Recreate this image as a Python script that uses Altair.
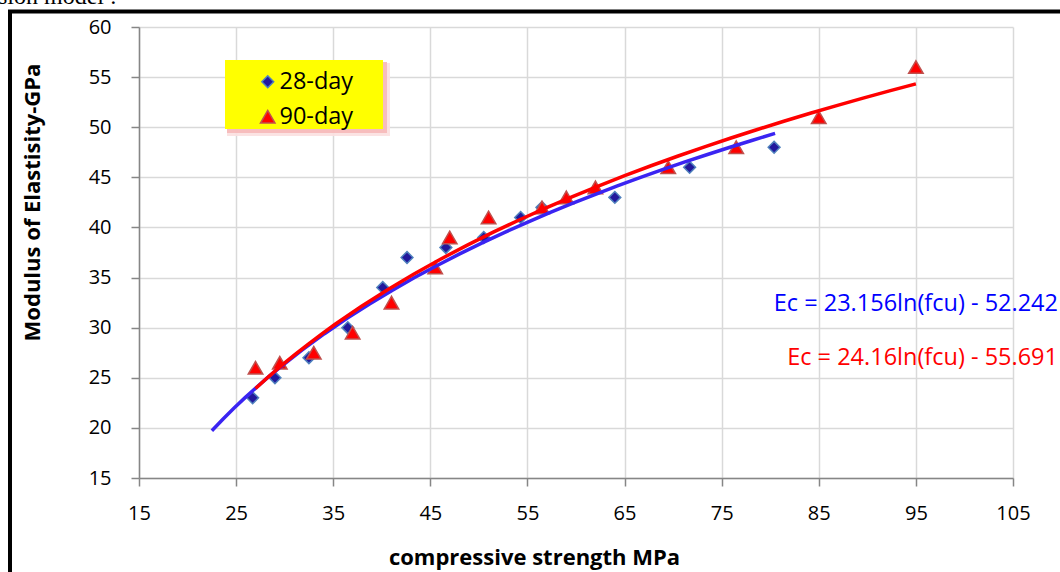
import altair as alt
import pandas as pd

# ---- data ----
fcu_28 = [26.7, 29.0, 32.5, 36.5, 40.1, 42.6, 46.6, 50.5, 54.3, 56.5, 64.0, 71.7, 80.4]
ec_28 = [23, 25, 27, 30, 34, 37, 38, 39, 41, 42, 43, 46, 48]
fcu_90 = [27.0, 29.5, 33.0, 37.0, 41.0, 45.5, 47.0, 51.0, 56.5, 59.0, 62.0, 69.5, 76.5, 85.0, 95.0]
ec_90 = [26, 26.5, 27.5, 29.5, 32.5, 36, 39, 41, 42, 43, 44, 46, 48, 51, 56]
series_names = ["28-day", "90-day"]
extent_28 = [22.5, 80.5]
extent_90 = [27.0, 95.0]
eq_28 = "Ec = 23.156ln(fcu) - 52.242"
eq_90 = "Ec = 24.16ln(fcu) - 55.691"
x_ticks = [15, 25, 35, 45, 55, 65, 75, 85, 95, 105]
y_ticks = [15, 20, 25, 30, 35, 40, 45, 50, 55, 60]
x_title = "compressive strength MPa"
y_title = "Modulus of Elastisity-GPa"
top_text = "sion model :"

df = pd.DataFrame({
    "series": [series_names[0]] * len(fcu_28) + [series_names[1]] * len(fcu_90),
    "fcu": fcu_28 + fcu_90,
    "Ec": ec_28 + ec_90,
})

W, H = 874, 451
FONT = "Open Sans"

x_enc = alt.X("fcu:Q", scale=alt.Scale(domain=[15, 105], nice=False, zero=False),
              axis=alt.Axis(values=x_ticks, title=x_title, labelPadding=17,
                            labelFlush=False, labelOverlap=False,
                            titleX=395, titleY=79, titleBaseline="middle",
                            titleAnchor="start", titleAlign="center"))
y_enc = alt.Y("Ec:Q", scale=alt.Scale(domain=[15, 60], nice=False, zero=False),
              axis=alt.Axis(values=y_ticks, title=y_title, labelPadding=20,
                            labelFlush=False, labelOverlap=False,
                            titleX=-107, titleY=175, titleBaseline="middle",
                            titleAngle=-90, titleAlign="center"))

legend = alt.Legend(title=None, orient="none", legendX=86, legendY=34,
                    padding=9,
                    symbolStrokeWidth=1.5, symbolOffset=22, labelOffset=0,
                    labelFont=FONT, labelFontSize=23.5, labelColor="black",
                    rowPadding=10)

shape_scale = alt.Scale(domain=series_names, range=["diamond", "triangle-up"])
fill_scale = alt.Scale(domain=series_names, range=["#22189c", "#ff0000"])
stroke_scale = alt.Scale(domain=series_names, range=["#4f81bd", "#c0504d"])
size_scale = alt.Scale(domain=series_names, range=[140, 210])

one = pd.DataFrame({"k": [0]})

frame = alt.Chart(one).mark_rect(
    fillOpacity=0, stroke="black", strokeWidth=4
).encode(x=alt.value(-129), x2=alt.value(935), y=alt.value(-15.5), y2=alt.value(570))

top = alt.Chart(pd.DataFrame({"t": [top_text]})).mark_text(
    align="left", baseline="alphabetic", font="Liberation Serif", fontSize=24, color="black"
).encode(text="t:N", x=alt.value(-141), y=alt.value(-23))

shadow2 = alt.Chart(one).mark_rect(fill="#fbe0e0", opacity=0.9).encode(
    x=alt.value(88), x2=alt.value(251), y=alt.value(36), y2=alt.value(109))
shadow = alt.Chart(one).mark_rect(fill="#f6b8b8", opacity=0.9).encode(
    x=alt.value(88), x2=alt.value(248), y=alt.value(35), y2=alt.value(106))
legend_box = alt.Chart(one).mark_rect(fill="#ffff00").encode(
    x=alt.value(86), x2=alt.value(244), y=alt.value(33), y2=alt.value(102))

points = alt.Chart(df).mark_point(filled=True, opacity=1, strokeWidth=1.5).encode(
    x=x_enc, y=y_enc,
    shape=alt.Shape("series:N", scale=shape_scale, legend=legend),
    fill=alt.Fill("series:N", scale=fill_scale, legend=legend),
    stroke=alt.Stroke("series:N", scale=stroke_scale, legend=legend),
    size=alt.Size("series:N", scale=size_scale, legend=legend),
    order=alt.Order("series:N"),
)

line28 = alt.Chart(df).transform_filter(alt.datum.series == series_names[0]).transform_regression(
    "fcu", "Ec", method="log", extent=extent_28
).mark_line(color="#3a24f2", strokeWidth=3.5).encode(x=x_enc, y=y_enc)

line90 = alt.Chart(df).transform_filter(alt.datum.series == series_names[1]).transform_regression(
    "fcu", "Ec", method="log", extent=extent_90
).mark_line(color="#ff0000", strokeWidth=3.5).encode(x=x_enc, y=y_enc)

eqs = alt.Chart(pd.DataFrame({"t": [eq_28, eq_90], "c": ["#0000ff", "#ff0000"],
                              "yy": [277, 331]})).mark_text(
    align="right", baseline="middle", font=FONT, fontSize=23.5
).encode(text="t:N", x=alt.value(919), y=alt.Y("yy:Q", scale=None),
         color=alt.Color("c:N", scale=None))

chart = alt.layer(frame, top, shadow2, shadow, legend_box, points, line28, line90, eqs).properties(
    width=W, height=H,
    autosize=alt.AutoSizeParams(type="none"),
    padding={"left": 139, "top": 27, "right": 47, "bottom": 94},
    background="white",
).configure_view(stroke=None).configure_axis(
    gridColor="#d9d9d9", gridWidth=1.5,
    domainColor="#868686", domainWidth=1.5,
    tickColor="#868686", tickWidth=1.5, tickSize=8,
    labelFont=FONT, labelFontSize=20, labelColor="black",
    titleFont=FONT, titleFontSize=22, titleFontWeight="bold", titleColor="black",
)

chart.save("out.html", embed_options={"renderer": "svg", "actions": False})
